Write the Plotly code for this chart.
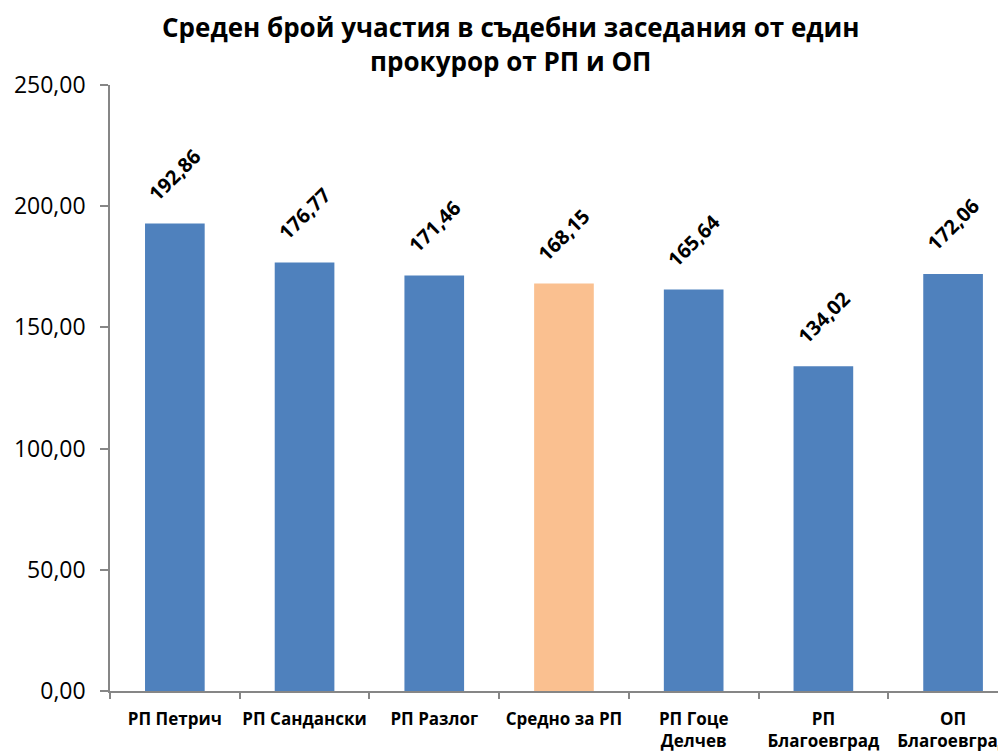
import plotly.graph_objects as go

categories = ["РП Петрич", "РП Сандански", "РП Разлог", "Средно за РП",
              "РП Гоце<br>Делчев", "РП<br>Благоевград", "ОП<br>Благоевград"]
values = [192.86, 176.77, 171.46, 168.15, 165.64, 134.02, 172.06]
colors = ["#4F81BD", "#4F81BD", "#4F81BD", "#FAC090", "#4F81BD", "#4F81BD", "#4F81BD"]
title_text = "Среден брой участия в съдебни заседания от един<br>прокурор от РП и ОП"

FONT = "Open Sans"

fig = go.Figure()
fig.add_trace(go.Bar(
    x=categories, y=values,
    marker=dict(color=colors, line=dict(width=0)),
    width=0.46,
    hoverinfo="skip",
))

for c, v in zip(categories, values):
    fig.add_annotation(
        x=c, y=v, text="<b>" + f"{v:.2f}".replace(".", ",") + "</b>",
        textangle=-45, showarrow=False, yshift=49,
        font=dict(family=FONT, size=20, color="#000000"),
    )

fig.add_annotation(
    xref="paper", yref="paper", x=0.447, y=1 + 41 / 606,
    xanchor="center", yanchor="middle", showarrow=False,
    text="<b>" + title_text + "</b>",
    font=dict(family=FONT, size=26, color="#000000"),
)

fig.update_layout(
    width=998, height=747,
    margin=dict(l=102, r=0, t=77, b=64),
    paper_bgcolor="white", plot_bgcolor="white",
    separators=", ",
    showlegend=False,
    font=dict(family=FONT, color="#000000"),
)

fig.update_xaxes(
    range=[-0.5, 6.408],
    showline=True, linecolor="#868686", linewidth=1.5,
    ticks="outside", ticklen=6, tickcolor="#868686", tickwidth=1.5,
    tickson="boundaries", ticklabelstandoff=12,
    tickangle=0, automargin=False,
    showgrid=False,
    tickfont=dict(family=FONT, size=17, color="#000000", weight="bold"),
)
fig.update_yaxes(
    range=[0, 250], dtick=50, tickformat=".2f",
    showline=True, linecolor="#868686", linewidth=1.5,
    ticks="outside", ticklen=8, tickcolor="#868686", tickwidth=1.5,
    ticklabelstandoff=10, automargin=False,
    showgrid=False, zeroline=False,
    tickfont=dict(family=FONT, size=23, color="#000000"),
)

fig.write_html("out.html")
